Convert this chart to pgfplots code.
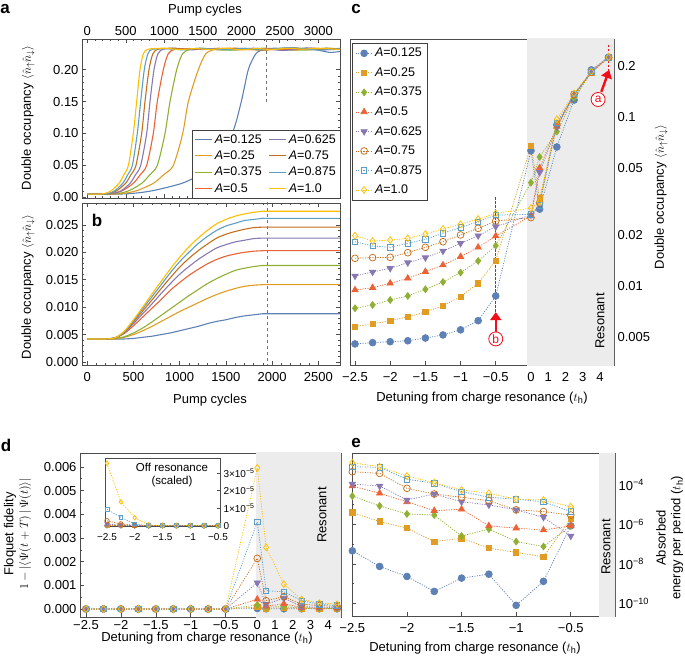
\documentclass[border=0pt]{standalone}
\usepackage{fontspec}
\setmainfont{Liberation Sans}
\usepackage{pgfplots}
\usepackage{pgfplotstable}
\pgfplotsset{compat=1.18}
\usetikzlibrary{arrows.meta}

\definecolor{c1}{rgb}{0.368417,0.506779,0.709798}
\definecolor{c2}{rgb}{0.880722,0.611041,0.142051}
\definecolor{c3}{rgb}{0.560181,0.691569,0.194885}
\definecolor{c4}{rgb}{0.922526,0.385626,0.209179}
\definecolor{c5}{rgb}{0.528488,0.470624,0.701351}
\definecolor{c6}{rgb}{0.772079,0.431554,0.102387}
\definecolor{c7}{rgb}{0.363898,0.618501,0.782349}
\definecolor{c8}{rgb}{1,0.75,0}
\definecolor{anno}{rgb}{0.95,0.05,0.1}
\definecolor{resgray}{gray}{0.925}

\newcommand{\lab}{\fontsize{13}{13}\selectfont}
\newcommand{\plab}{\fontsize{17}{17}\selectfont\bfseries}

\pgfplotsset{
  every axis/.append style={
    scale only axis, anchor=south west,
    scaled ticks=false,
    axis line style={black!70, line width=0.8pt},
    tick style={black!70, line width=0.6pt},
    major tick length=4pt, minor tick length=2.2pt,
    tick align=inside,
    tick label style={font=\lab},
  },
  s1/.style={color=c1, mark=*, mark size=3.4pt, mark options={solid}},
  s2/.style={color=c2, mark=square*, mark size=2.7pt, mark options={solid}},
  s3/.style={color=c3, mark=diamond*, mark size=3.4pt, mark options={solid}},
  s4/.style={color=c4, mark=triangle*, mark size=3.6pt, mark options={solid}},
  s5/.style={color=c5, mark=triangle*, mark size=3.6pt, mark options={solid, rotate=180}},
  s6/.style={color=c6, mark=o, mark size=3.4pt, mark options={solid}},
  s7/.style={color=c7, mark=square, mark size=2.7pt, mark options={solid}},
  s8/.style={color=c8, mark=diamond, mark size=3.4pt, mark options={solid}},
  dl/.style={line width=0.75pt, dash pattern=on 1.1pt off 1.4pt},
  cl/.style={line width=1.1pt, smooth, tension=0.45, no marks},
}

% panel b data: pump cycles, double occupancy for A=0.125 ... 1.0
\pgfplotstableread{
x y1 y2 y3 y4 y5 y6 y7 y8
0 0.0042 0.0042 0.0042 0.0042 0.0042 0.0042 0.0042 0.0042
200 0.0042 0.0042 0.0042 0.0042 0.0042 0.0042 0.0042 0.0042
300 0.0042 0.0042 0.0043 0.0044 0.0044 0.0044 0.0044 0.0044
400 0.0042 0.0045 0.0046 0.0052 0.0053 0.0054 0.0055 0.0056
500 0.0043 0.0050 0.0053 0.0066 0.0070 0.0073 0.0075 0.0077
600 0.0045 0.0057 0.0062 0.0082 0.0088 0.0093 0.0097 0.0100
700 0.0047 0.0065 0.0073 0.0098 0.0106 0.0113 0.0119 0.0124
800 0.0050 0.0074 0.0085 0.0114 0.0125 0.0134 0.0141 0.0147
900 0.0053 0.0083 0.0097 0.0131 0.0143 0.0154 0.0163 0.0170
1000 0.0057 0.0092 0.0109 0.0145 0.0160 0.0173 0.0183 0.0191
1100 0.0061 0.0100 0.0121 0.0158 0.0174 0.0189 0.0200 0.0210
1200 0.0065 0.0108 0.0132 0.0169 0.0187 0.0203 0.0216 0.0226
1300 0.0070 0.0116 0.0143 0.0179 0.0198 0.0215 0.0229 0.0240
1400 0.0074 0.0123 0.0152 0.0187 0.0208 0.0226 0.0240 0.0252
1500 0.0077 0.0129 0.0160 0.0193 0.0214 0.0233 0.0248 0.0260
1600 0.0081 0.0134 0.0167 0.0197 0.0219 0.0238 0.0253 0.0266
1700 0.0084 0.0138 0.0171 0.0200 0.0222 0.0242 0.0258 0.0270
1800 0.0086 0.0140 0.0174 0.0202 0.0225 0.0245 0.0260 0.0273
1900 0.0088 0.0141 0.0176 0.0203 0.0226 0.0246 0.0262 0.0275
1945 0.0088 0.0141 0.0176 0.0203 0.0226 0.0246 0.0262 0.0275
2735 0.0088 0.0141 0.0176 0.0203 0.0226 0.0246 0.0262 0.0275
}\tabb

% panel c: u = plotted position (left: detuning; right: 0.245 per unit from 0)
\pgfplotstableread{
u y1 y2 y3 y4 y5 y6 y7 y8
-2.5 0.00454 0.00575 0.00738 0.00947 0.01146 0.01458 0.01828 0.01985
-2.25 0.00462 0.00596 0.00772 0.00977 0.01210 0.01471 0.01725 0.01846
-2 0.00468 0.00623 0.00826 0.01037 0.01272 0.01478 0.01694 0.01870
-1.75 0.00474 0.00656 0.00873 0.01110 0.01374 0.01574 0.01788 0.01915
-1.5 0.00492 0.00702 0.00956 0.01216 0.01471 0.01694 0.01890 0.02030
-1.25 0.00513 0.00765 0.01056 0.01330 0.01611 0.01828 0.02050 0.02175
-1 0.00550 0.00865 0.01200 0.01491 0.01788 0.02004 0.02225 0.02317
-0.75 0.00623 0.01037 0.01406 0.01694 0.01985 0.02194 0.02402 0.02490
-0.5 0.00873 0.01413 0.01733 0.01977 0.02244 0.02424 0.02630 0.02690
0 0.0632 0.0673 0.0409 0.0260 0.0263 0.0254 0.0265 0.0289
0.123 0.0285 0.0330 0.0580 0.0500 0.0470 0.0310 0.0300 0.0315
0.368 0.0665 0.0900 0.0820 0.0880 0.0870 0.0900 0.0920 0.0970
0.613 0.126 0.133 0.130 0.135 0.135 0.136 0.137 0.138
0.858 0.190 0.182 0.185 0.186 0.186 0.184 0.186 0.186
1.103 0.226 0.226 0.227 0.226 0.226 0.225 0.226 0.226
}\tabc

% panel d
\pgfplotstableread{
u y1 y2 y3 y4 y5 y6 y7 y8
-2.5 0 0 0 0 0 0 0 0
-2.25 0 0 0 0 0 0 0 0
-2 0 0 0 0 0 0 0 0
-1.75 0 0 0 0 0 0 0 0
-1.5 0 0 0 0 0 0 0 0
-1.25 0 0 0 0 0 0 0 0
-1 0 0 0 0 0 0 0 0
-0.75 0 0 0 0 0 0 0 0
-0.5 0 0 0 0 0 0 0 0
-0.048 0.00002 0.00008 0.00017 0.00041 0.00111 0.00214 0.00368 0.00596
0.079 0.00001 0.00003 0.00008 0.00012 0.00020 0.00035 0.00077 0.00260
0.333 0.00001 0.00005 0.00010 0.00022 0.00046 0.00052 0.00073 0.00105
0.587 0.00001 0.00002 0.00004 0.00006 0.00010 0.00020 0.00035 0.00040
0.841 0.00001 0.00002 0.00003 0.00004 0.00008 0.00015 0.00020 0.00025
1.095 0.00001 0.00001 0.00002 0.00003 0.00005 0.00010 0.00015 0.00020
}\tabd

% inset of d (values in units of 1e-5)
\pgfplotstableread{
u y1 y2 y3 y4 y5 y6 y7 y8
-2.5 0 0.02 0.03 0.05 0.10 0.28 0.93 3.55
-2.25 0 0 0.01 0.02 0.03 0.10 0.48 1.36
-2 0 0 0 0 0 0.02 0.10 0.45
-1.75 0 0 0 0 0 0 0 0.04
-1.5 0 0 0 0 0 0 0 0
-1.25 0 0 0 0 0 0 0 0
-1 0 0 0 0 0 0 0 0
-0.75 0 0 0 0 0 0 0 0
-0.5 0 0 0 0 0 0 0 0
}\tabi

% panel e
\pgfplotstableread{
u y1 y2 y3 y4 y5 y6 y7 y8
-2.5 4.6e-8 4.0e-6 2.75e-5 8.9e-5 1.12e-4 4.7e-4 8.5e-4 1.35e-3
-2.25 7.4e-9 1.4e-6 8.7e-6 3.8e-5 8.9e-5 3.9e-4 7.9e-4 8.5e-4
-2 2.3e-9 6.5e-7 3.4e-6 1.4e-5 1.74e-5 6.8e-5 1.95e-4 2.85e-4
-1.75 4.0e-10 1.35e-7 3.0e-6 5.0e-6 3.5e-5 3.5e-5 1.23e-4 1.32e-4
-1.5 1.9e-9 2.0e-7 2.6e-7 5.9e-6 1.4e-5 2.4e-5 4.6e-5 5.6e-5
-1.25 3.0e-9 6.3e-8 5.8e-7 8.5e-7 9.8e-6 1.6e-5 2.4e-5 3.8e-5
-1 7.9e-11 3.8e-8 1.35e-7 6.5e-7 5.5e-6 5.5e-6 1.9e-5 1.9e-5
-0.75 1.3e-9 2.3e-8 7.6e-8 5.2e-7 2.3e-6 4.5e-6 1.4e-5 1.74e-5
-0.5 8.5e-7 1.9e-6 8.5e-7 8.5e-7 2.6e-7 3.0e-6 4.5e-6 7.9e-6
}\tabe

\begin{document}
\begin{tikzpicture}
\path[use as bounding box] (0,0) rectangle (685pt,656pt);

% ---------------- panel a ----------------
\begin{axis}[
  at={(82pt,458pt)}, width=258pt, height=159pt,
  xmin=-69, xmax=3282, ymin=-0.001, ymax=0.248,
  xtick={0,500,1000,1500,2000,2500,3000},
  xticklabels={0,500,1000,1500,2000,2500,3000},
  xticklabel pos=top, minor x tick num=4,
  ytick={0,0.05,0.1,0.15,0.2}, yticklabels={0.00,0.05,0.10,0.15,0.20},
  minor y tick num=4,
  legend columns=4, transpose legend, legend cell align=left,
  legend style={at={(rel axis cs:1,0)}, anchor=south east, draw=black!75,
    fill=white, font=\fontsize{12.5}{12.5}\selectfont, inner xsep=2pt, inner ysep=2pt,
    row sep=2.2pt, /tikz/every even column/.append style={column sep=5pt}},
]
\draw[black!55, dashed, line width=0.6pt] (axis cs:2330,0.15) -- (axis cs:2330,0.25);
\addplot[c1, cl] coordinates {(0,0.005)(500,0.0055)(830,0.01)(1230,0.022)(1450,0.035)(1610,0.05)(1880,0.10)(2000,0.15)(2091,0.20)(2190,0.225)(2300,0.232)(2450,0.2335)(2650,0.2315)(2850,0.234)(3000,0.2305)(3150,0.227)(3282,0.2285)};
\addplot[c2, cl] coordinates {(0,0.005)(402,0.0055)(630,0.01)(857,0.022)(987,0.035)(1117,0.05)(1239,0.10)(1312,0.15)(1442,0.20)(1540,0.225)(1670,0.232)(1850,0.2335)(2050,0.232)(2250,0.2305)(2450,0.2325)(2650,0.2345)(2850,0.2325)(3050,0.2315)(3282,0.2335)};
\addplot[c3, cl] coordinates {(0,0.005)(355,0.0055)(531,0.01)(707,0.022)(808,0.035)(909,0.05)(1009,0.10)(1074,0.15)(1161,0.20)(1237,0.225)(1337,0.232)(1500,0.2335)(1700,0.231)(1900,0.2305)(2100,0.2325)(2300,0.2335)(2500,0.232)(2700,0.2305)(2900,0.231)(3100,0.2335)(3282,0.2325)};
\addplot[c4, cl] coordinates {(0,0.005)(296,0.0055)(447,0.01)(598,0.022)(685,0.035)(771,0.05)(857,0.10)(909,0.15)(987,0.20)(1052,0.225)(1138,0.232)(1300,0.233)(1500,0.2315)(1700,0.2335)(1900,0.232)(2100,0.2315)(2300,0.233)(2500,0.2325)(2700,0.231)(2900,0.2335)(3100,0.232)(3282,0.233)};
\addplot[c5, cl] coordinates {(0,0.005)(290,0.0055)(433,0.01)(555,0.022)(624,0.035)(693,0.05)(771,0.10)(814,0.15)(866,0.20)(918,0.225)(987,0.232)(1150,0.2335)(1350,0.231)(1550,0.233)(1750,0.232)(1950,0.2315)(2150,0.2335)(2350,0.232)(2550,0.230)(2750,0.2325)(2950,0.2335)(3150,0.2315)(3282,0.232)};
\addplot[c6, cl] coordinates {(0,0.005)(260,0.0055)(378,0.01)(497,0.022)(564,0.035)(632,0.05)(706,0.10)(749,0.15)(801,0.20)(852,0.225)(919,0.232)(1100,0.2335)(1300,0.2315)(1500,0.233)(1700,0.2315)(1900,0.2335)(2100,0.2325)(2300,0.2305)(2500,0.233)(2700,0.2335)(2900,0.2315)(3100,0.2335)(3282,0.232)};
\addplot[c7, cl] coordinates {(0,0.005)(244,0.0055)(352,0.01)(461,0.022)(523,0.035)(585,0.05)(649,0.10)(693,0.15)(740,0.20)(787,0.225)(849,0.232)(1050,0.2325)(1250,0.231)(1450,0.2335)(1650,0.232)(1850,0.2315)(2050,0.2335)(2250,0.231)(2450,0.233)(2650,0.2345)(2850,0.232)(3050,0.2305)(3282,0.233)};
\addplot[c8, cl] coordinates {(0,0.005)(201,0.0055)(306,0.01)(412,0.022)(473,0.035)(533,0.05)(597,0.10)(641,0.15)(684,0.20)(729,0.225)(790,0.232)(1000,0.2335)(1200,0.2315)(1400,0.233)(1600,0.2315)(1800,0.2335)(2000,0.231)(2200,0.233)(2400,0.2315)(2600,0.2335)(2800,0.232)(3000,0.2335)(3282,0.2315)};
\addlegendentry{\textit{A}=0.125}
\addlegendentry{\textit{A}=0.25}
\addlegendentry{\textit{A}=0.375}
\addlegendentry{\textit{A}=0.5}
\addlegendentry{\textit{A}=0.625}
\addlegendentry{\textit{A}=0.75}
\addlegendentry{\textit{A}=0.875}
\addlegendentry{\textit{A}=1.0}
\end{axis}

% ---------------- panel b ----------------
\begin{axis}[
  at={(82pt,291pt)}, width=258pt, height=162pt,
  xmin=-57, xmax=2735, ymin=-0.00055, ymax=0.029,
  xtick={0,500,1000,1500,2000,2500},
  xticklabels={0,500,1000,1500,2000,2500}, minor x tick num=4,
  xticklabel style={yshift=-4pt},
  ytick={0,0.005,0.01,0.015,0.02,0.025},
  yticklabels={0.000,0.005,0.010,0.015,0.020,0.025}, minor y tick num=4,
]
\draw[black!55, dashed, line width=0.6pt] (axis cs:1945,-0.001) -- (axis cs:1945,0.03);
\addplot[c1, cl] table[x=x, y=y1] {\tabb};
\addplot[c2, cl] table[x=x, y=y2] {\tabb};
\addplot[c3, cl] table[x=x, y=y3] {\tabb};
\addplot[c4, cl] table[x=x, y=y4] {\tabb};
\addplot[c5, cl] table[x=x, y=y5] {\tabb};
\addplot[c6, cl] table[x=x, y=y6] {\tabb};
\addplot[c7, cl] table[x=x, y=y7] {\tabb};
\addplot[c8, cl] table[x=x, y=y8] {\tabb};
\end{axis}

% ---------------- panel c ----------------
\begin{axis}[
  at={(350pt,291pt)}, width=264pt, height=326pt,
  xmin=-2.571, xmax=1.18, ymode=log, ymin=0.003406, ymax=0.2896,
  xtick={-2.5,-2,-1.5,-1,-0.5,0,0.245,0.49,0.735,0.98},
  xticklabels={−2.5,−2,−1.5,−1,−0.5,0,1,2,3,4},
  xticklabel style={yshift=-4pt},
  xtick pos=bottom, ytick pos=right, yticklabel pos=right,
  ytick={0.005,0.01,0.02,0.05,0.1,0.2},
  yticklabels={0.005,0.01,0.02,0.05,0.1,0.2},
  minor ytick={1},
  legend cell align=left,
  legend style={at={(rel axis cs:0,1)}, anchor=north west, xshift=2pt, yshift=-4pt,
    draw=black!75, fill=white, font=\fontsize{12.5}{12.5}\selectfont,
    inner xsep=3pt, inner ysep=3pt, row sep=5.3pt},
]
\fill[resgray] (axis cs:-0.05,0.002) rectangle (axis cs:1.3,0.5);
\addplot[s1, dl] table[x=u, y=y1] {\tabc}; \addlegendentry{\textit{A}=0.125}
\addplot[s2, dl] table[x=u, y=y2] {\tabc}; \addlegendentry{\textit{A}=0.25}
\addplot[s3, dl] table[x=u, y=y3] {\tabc}; \addlegendentry{\textit{A}=0.375}
\addplot[s4, dl] table[x=u, y=y4] {\tabc}; \addlegendentry{\textit{A}=0.5}
\addplot[s5, dl] table[x=u, y=y5] {\tabc}; \addlegendentry{\textit{A}=0.625}
\addplot[s6, dl] table[x=u, y=y6] {\tabc}; \addlegendentry{\textit{A}=0.75}
\addplot[s7, dl] table[x=u, y=y7] {\tabc}; \addlegendentry{\textit{A}=0.875}
\addplot[s8, dl] table[x=u, y=y8] {\tabc}; \addlegendentry{\textit{A}=1.0}
\draw[anno, line width=0.8pt, dash pattern=on 2.5pt off 1.5pt] (axis cs:-0.5,0.0336) -- (axis cs:-0.5,0.0068);
\draw[anno, line width=2.4pt, -{Triangle[width=11pt,length=8pt]}] (axis cs:-0.5,0.00530) -- (axis cs:-0.5,0.00700);
\node[circle, draw=anno, line width=0.8pt, text=anno, fill=white, inner sep=0pt, minimum size=14pt,
  font=\fontsize{12}{12}\selectfont] at (axis cs:-0.5,0.00486) {b};
\draw[anno, line width=0.8pt, dash pattern=on 2.5pt off 1.5pt] (axis cs:1.103,0.267) -- (axis cs:1.103,0.182);
\draw[anno, line width=2.4pt, -{Triangle[width=11pt,length=8pt]}] (axis cs:1.0,0.141) -- (axis cs:1.112,0.19);
\node[circle, draw=anno, line width=0.8pt, text=anno, fill=white, inner sep=0pt, minimum size=14pt,
  font=\fontsize{12}{12}\selectfont] at (axis cs:0.954,0.127) {a};
\end{axis}

% ---------------- panel d ----------------
\begin{axis}[
  at={(80pt,39pt)}, width=261pt, height=164pt,
  xmin=-2.586, xmax=1.151, ymin=-0.000338, ymax=0.00659,
  xtick={-2.5,-2,-1.5,-1,-0.5,-0.048,0.206,0.46,0.714,0.968},
  xticklabels={−2.5,−2,−1.5,−1,−0.5,0,1,2,3,4},
  xtick pos=bottom,
  ytick={0,0.001,0.002,0.003,0.004,0.005,0.006},
  yticklabels={0.000,0.001,0.002,0.003,0.004,0.005,0.006}, minor y tick num=1,
]
\fill[resgray] (axis cs:-0.066,-0.001) rectangle (axis cs:1.3,0.008);
\addplot[s1, dl] table[x=u, y=y1] {\tabd};
\addplot[s2, dl] table[x=u, y=y2] {\tabd};
\addplot[s3, dl] table[x=u, y=y3] {\tabd};
\addplot[s4, dl] table[x=u, y=y4] {\tabd};
\addplot[s5, dl] table[x=u, y=y5] {\tabd};
\addplot[s6, dl] table[x=u, y=y6] {\tabd};
\addplot[s7, dl] table[x=u, y=y7] {\tabd};
\addplot[s8, dl] table[x=u, y=y8] {\tabd};
\end{axis}

% ---------------- inset of d ----------------
\begin{axis}[
  at={(105pt,130pt)}, width=115pt, height=68pt,
  axis background/.style={fill=white},
  xmin=-2.536, xmax=-0.464, ymin=-0.017, ymax=3.85,
  xtick={-2.5,-2,-1.5,-1,-0.5}, xticklabels={−2.5,−2,−1.5,−1,−0.5},
  xticklabel style={yshift=-4pt},
  xtick pos=bottom, ytick pos=right, yticklabel pos=right,
  ytick={0,1,2,3},
  yticklabels={0,1×10\textsuperscript{−5},2×10\textsuperscript{−5},3×10\textsuperscript{−5}},
  tick label style={font=\fontsize{10}{10}\selectfont},
  major tick length=3pt,
]
\addplot[s1, dl, mark size=2.3pt] table[x=u, y=y1] {\tabi};
\addplot[s2, dl, mark size=1.9pt] table[x=u, y=y2] {\tabi};
\addplot[s3, dl, mark size=2.3pt] table[x=u, y=y3] {\tabi};
\addplot[s4, dl, mark size=2.4pt] table[x=u, y=y4] {\tabi};
\addplot[s5, dl, mark size=2.4pt] table[x=u, y=y5] {\tabi};
\addplot[s6, dl, mark size=2.3pt] table[x=u, y=y6] {\tabi};
\addplot[s7, dl, mark size=1.9pt] table[x=u, y=y7] {\tabi};
\addplot[s8, dl, mark size=2.3pt] table[x=u, y=y8] {\tabi};
\end{axis}

% ---------------- panel e ----------------
\begin{axis}[
  at={(352pt,40pt)}, width=263pt, height=163pt,
  xmin=-2.503, xmax=-0.095, ymode=log, ymin=2.27e-11, ymax=4.2e-3,
  xtick={-2.5,-2,-1.5,-1,-0.5}, xticklabels={−2.5,−2,−1.5,−1,−0.5},
  xticklabel style={yshift=-4pt},
  xtick pos=bottom, yticklabel pos=right,
  ytick={1e-10,1e-8,1e-6,1e-4},
  yticklabels={10\textsuperscript{−10},10\textsuperscript{−8},10\textsuperscript{−6},10\textsuperscript{−4}},
  minor ytick={1e-11,1e-9,1e-7,1e-5,1e-3},
]
\fill[resgray] (axis cs:-0.24,1e-12) rectangle (axis cs:0.5,1e-2);
\addplot[s1, dl] table[x=u, y=y1] {\tabe};
\addplot[s2, dl] table[x=u, y=y2] {\tabe};
\addplot[s3, dl] table[x=u, y=y3] {\tabe};
\addplot[s4, dl] table[x=u, y=y4] {\tabe};
\addplot[s5, dl] table[x=u, y=y5] {\tabe};
\addplot[s6, dl] table[x=u, y=y6] {\tabe};
\addplot[s7, dl] table[x=u, y=y7] {\tabe};
\addplot[s8, dl] table[x=u, y=y8] {\tabe};
\end{axis}

% ---------------- texts ----------------
\node[font=\plab] at (5pt,647pt) {a};
\node[font=\plab] at (97pt,436pt) {b};
\node[font=\plab] at (356pt,647pt) {c};
\node[font=\plab] at (6pt,211pt) {d};
\node[font=\plab] at (356pt,213pt) {e};

\node[font=\lab] at (205pt,646pt) {Pump cycles};
\node[font=\lab] at (210pt,256pt) {Pump cycles};
\node[font=\lab, rotate=90] at (28pt,538pt) {Double occupancy $\langle\hat n_{\uparrow}\hat n_{\downarrow}\rangle$};
\node[font=\lab, rotate=90] at (28pt,369pt) {Double occupancy $\langle\hat n_{\uparrow}\hat n_{\downarrow}\rangle$};
\node[font=\lab, rotate=90] at (661pt,459pt) {Double occupancy $\langle\hat n_{\uparrow}\hat n_{\downarrow}\rangle$};
\node[font=\lab] at (482pt,258pt) {Detuning from charge resonance ($t_{\mathrm{h}}$)};
\node[font=\lab, rotate=90] at (600pt,335pt) {Resonant};

\node[font=\lab, rotate=90] at (10pt,122pt) {Floquet fidelity};
\node[font=\lab, rotate=90] at (25pt,122pt) {$1-\bigl|\langle\Psi(t+T)\,|\,\Psi(t)\rangle\bigr|$};
\node[font=\lab] at (207pt,18pt) {Detuning from charge resonance ($t_{\mathrm{h}}$)};
\node[font=\fontsize{11.5}{11.5}\selectfont] at (172pt,189pt) {Off resonance};
\node[font=\fontsize{11.5}{11.5}\selectfont] at (172pt,174pt) {(scaled)};
\node[font=\lab, rotate=90] at (322pt,141pt) {Resonant};

\node[font=\lab] at (475pt,8pt) {Detuning from charge resonance ($t_{\mathrm{h}}$)};
\node[font=\lab, rotate=90] at (606pt,109pt) {Resonant};
\node[font=\lab, rotate=90] at (661pt,118pt) {Absorbed};
\node[font=\lab, rotate=90] at (677pt,118pt) {energy per period ($t_{\mathrm{h}}$)};
\end{tikzpicture}
\end{document}
